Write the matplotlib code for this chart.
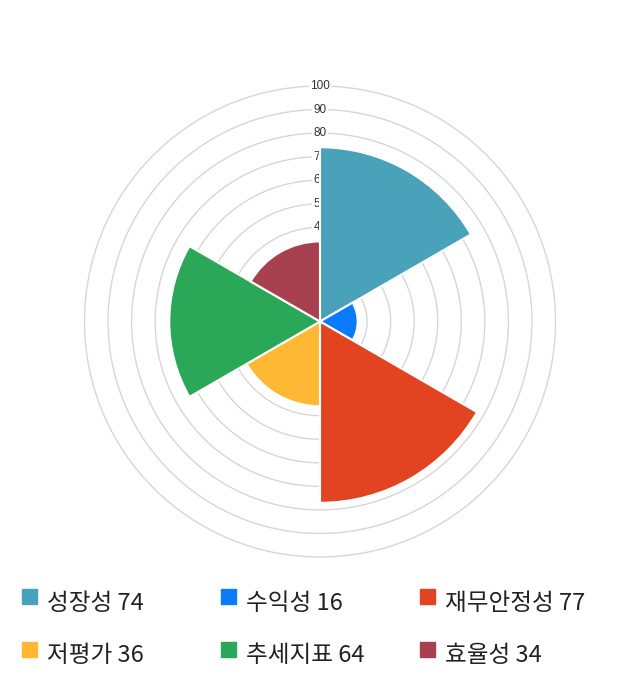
import numpy as np
import matplotlib
matplotlib.use("Agg")
import matplotlib.pyplot as plt
from matplotlib.patches import Rectangle

# data
categories = ["성장성", "수익성", "재무안정성", "저평가", "추세지표", "효율성"]
values = [74, 16, 77, 36, 64, 34]
colors = ["#4aa2ba", "#0a7bff", "#e24421", "#ffb833", "#2aa757", "#a74150"]
rings = [10, 20, 30, 40, 50, 60, 70, 80, 90, 100]

plt.rcParams["font.family"] = ["Noto Sans CJK KR", "DejaVu Sans"]

fig = plt.figure(figsize=(6.4, 7.0), dpi=100)
W, H = 640, 700
cx, cy, R = 320, 321.5, 235.5
ax = fig.add_axes([(cx - R) / W, (H - cy - R) / H, 2 * R / W, 2 * R / H], projection="polar")
ax.set_theta_zero_location("N")
ax.set_theta_direction(-1)
ax.set_ylim(0, 100)
ax.axis("off")

# grid rings
t = np.linspace(0, 2 * np.pi, 400)
for r in rings:
    ax.plot(t, [r] * len(t), color="#d6d6d6", lw=1, zorder=0, clip_on=False)

# ring labels (drawn beneath the sectors)
for r in rings:
    ax.text(0, r, str(r), ha="center", va="center", fontsize=8.5,
            family="Liberation Sans", color="#333333", zorder=1,
            bbox=dict(boxstyle="square,pad=0.12", fc="white", ec="none"))

n = len(values)
width = 2 * np.pi / n
theta = np.arange(n) * width + width / 2
ax.bar(theta, values, width=width, color=colors, edgecolor="white", linewidth=1.5, zorder=3)

# legend
cols_x = [22, 221, 420]
rows_y = [603, 656]
for i, (name, v, c) in enumerate(zip(categories, values, colors)):
    x = cols_x[i % 3]
    y = rows_y[i // 3]
    top = y - 14
    fig.add_artist(Rectangle((x / W, (H - top - 15) / H), 15 / W, 15 / H,
                             transform=fig.transFigure, color=c))
    fig.text((x + 25) / W, (H - y) / H, f"{name} {v}", fontsize=17,
             va="center", ha="left", color="#222222")

fig.savefig("out.png", dpi=100)
